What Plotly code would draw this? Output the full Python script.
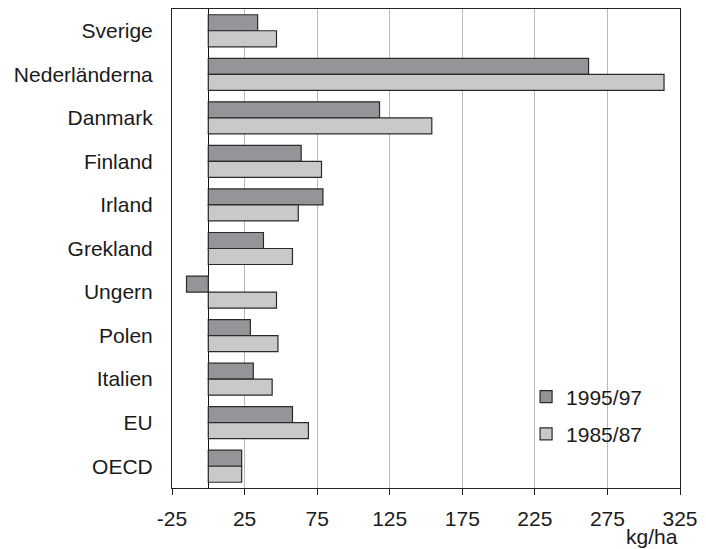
import plotly.graph_objects as go

categories = ["Sverige", "Nederländerna", "Danmark", "Finland", "Irland", "Grekland",
              "Ungern", "Polen", "Italien", "EU", "OECD"]
values_1995_97 = [34, 262, 118, 64, 79, 38, -15, 29, 31, 58, 23]
values_1985_87 = [47, 314, 154, 78, 62, 58, 47, 48, 44, 69, 23]
tick_vals = [-25, 25, 75, 125, 175, 225, 275, 325]

FONT = "Liberation Sans, Arial, sans-serif"

fig = go.Figure()
fig.add_trace(go.Bar(
    y=categories, x=values_1995_97, orientation="h", name="1995/97",
    legendgroup="a",
    marker=dict(color="#939598", line=dict(color="#2a2a2a", width=1.2)),
))
fig.add_trace(go.Bar(
    y=categories, x=values_1985_87, orientation="h", name="1985/87",
    legendgroup="b",
    marker=dict(color="#c8c9cb", line=dict(color="#2a2a2a", width=1.2)),
))

fig.update_layout(
    width=706, height=549,
    margin=dict(l=172, r=21, t=8, b=61),
    paper_bgcolor="white", plot_bgcolor="white",
    barmode="group", bargap=0.265, bargroupgap=0,
    font=dict(family=FONT, size=21, color="#1a1a1a"),
    showlegend=True,
    legend=dict(x=0.697, y=0.233, xanchor="left", yanchor="top",
                bgcolor="rgba(0,0,0,0)", tracegroupgap=7,
                font=dict(size=21), traceorder="grouped"),
    xaxis=dict(range=[-25, 325], tickvals=tick_vals, ticktext=[str(v) for v in tick_vals],
               showgrid=True, gridcolor="#b8b8b8", gridwidth=1,
               zeroline=True, zerolinecolor="#111", zerolinewidth=1,
               showline=True, linecolor="#222", linewidth=1, mirror=True,
               ticks="outside", ticklen=6, tickcolor="#222",
               ticklabelstandoff=6,
               tickfont=dict(size=21)),
    yaxis=dict(autorange="reversed", showline=True, linecolor="#222", linewidth=1,
               mirror=True, ticks="", ticklabelstandoff=14,
               tickfont=dict(size=21)),
)
fig.add_annotation(text="kg/ha", xref="paper", yref="paper", x=1.0, y=0,
                   xanchor="right", yanchor="top", yshift=-35, showarrow=False,
                   font=dict(size=21, family=FONT, color="#1a1a1a"))

fig.write_html("out.html")
